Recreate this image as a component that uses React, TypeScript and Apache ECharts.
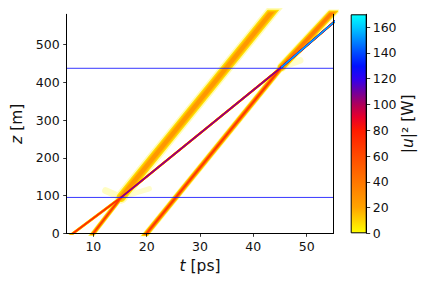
import React, { useEffect, useRef } from 'react';
import * as echarts from 'echarts';

// ---------- data ----------
const xTicks = [10, 20, 30, 40, 50];
const yTicks = [0, 100, 200, 300, 400, 500];
const cbTicks = [0, 20, 40, 60, 80, 100, 120, 140, 160];
const xRange = [5, 55];
const yRange = [0, 580];
const cbRange = [0, 170];

// soliton traces: [t (ps), z (m)] vertices (first/last run past the axes and are clipped)
const trace1 = [[4.3, -20], [15.2, 95], [45.3, 440], [56, 570]];
const trace1Peak = [80, 112, 165];
const trace2 = [[8.9, -20], [15.2, 95], [44.8, 610]];
const trace2Peak = [75, 30];
const trace3 = [[18.85, -20], [45.3, 440], [56.6, 612]];
const trace3Peak = [75, 45];
// faint radiation around the collisions
const radiation = [
  [[15.2, 95], [12.3, 113]],
  [[15.2, 95], [20.5, 118]],
  [[15.2, 95], [23, 230]],
  [[45.3, 440], [48.8, 458]],
];
const radiationPeak = [3.5, 3, 3.5, 3];
const collisionZ = [95, 437];

// ---------- styles ----------
const trace1Sigma = [0.75, 0.8, 0.8];
const trace1Shape = [3, 6, 6];
const trace2Sigma = [0.9, 2.3];
const trace2Shape = [2, 2];
const trace3Sigma = [1.1, 1.7];
const trace3Shape = [2, 2];
const radiationSigma = [2, 1.6, 3.5, 2];
const radiationShape = [2, 2, 2, 2];
const levels = [0.8, 4, 10, 20, 30, 45, 60, 75, 90, 105, 120, 135, 150];
const cmap: [number, string][] = [
  [0, '#ffff00'],
  [20, '#ffa300'],
  [40, '#ff7600'],
  [60, '#ff4a00'],
  [80, '#ff1a00'],
  [90, '#e8002a'],
  [100, '#b0005a'],
  [110, '#7000a0'],
  [120, '#3000f0'],
  [130, '#0010ff'],
  [140, '#0048ff'],
  [150, '#0088ff'],
  [160, '#00c8ff'],
  [170, '#00ffff'],
];
const FONT = 'DejaVu Sans';

function hex(c: string) {
  return [parseInt(c.slice(1, 3), 16), parseInt(c.slice(3, 5), 16), parseInt(c.slice(5, 7), 16)];
}
function mix(a: number[], b: number[], t: number) {
  return a.map((x, i) => Math.round(x + (b[i] - x) * t));
}
function cmapRgb(v: number) {
  if (v <= cmap[0][0]) return hex(cmap[0][1]);
  for (let i = 1; i < cmap.length; i++) {
    if (v <= cmap[i][0]) {
      const t = (v - cmap[i - 1][0]) / (cmap[i][0] - cmap[i - 1][0]);
      return mix(hex(cmap[i - 1][1]), hex(cmap[i][1]), t);
    }
  }
  return hex(cmap[cmap.length - 1][1]);
}
function drawColor(v: number) {
  let c = cmapRgb(v);
  if (v < 6) c = mix([255, 255, 255], c, Math.pow(v / 6, 1.4));
  return `rgb(${c[0]},${c[1]},${c[2]})`;
}

type Layer = { data: number[][]; width: number; val: number };
function buildLayers(points: number[][], peaks: number[], sigmas: number[], shapes: number[], out: Layer[]) {
  for (let i = 0; i < peaks.length; i++) {
    const P = peaks[i];
    const s = sigmas[i];
    const p = shapes[i];
    const lv = levels.filter((v) => v < P * 0.97);
    lv.forEach((v, k) => {
      const next = k + 1 < lv.length ? lv[k + 1] : P;
      const w = 2 * s * Math.pow(2 * Math.log(P / v), 1 / p);
      out.push({ data: [points[i], points[i + 1]], width: Math.max(w, 0.6), val: (v + next) / 2 });
    });
  }
}

export default function App() {
  const ref = useRef<HTMLDivElement>(null);
  useEffect(() => {
    const chart = echarts.init(ref.current!, null, { renderer: 'svg' });
    const layers: Layer[] = [];
    radiation.forEach((seg, i) =>
      buildLayers(seg, [radiationPeak[i]], [radiationSigma[i]], [radiationShape[i]], layers)
    );
    buildLayers(trace2, trace2Peak, trace2Sigma, trace2Shape, layers);
    buildLayers(trace3, trace3Peak, trace3Sigma, trace3Shape, layers);
    buildLayers(trace1, trace1Peak, trace1Sigma, trace1Shape, layers);
    const sorted = layers.map((l, i) => ({ l, i })).sort((a, b) => a.l.val - b.l.val || a.i - b.i);

    const traceSeries = sorted.map(({ l }) => ({
      type: 'line',
      xAxisIndex: 0,
      yAxisIndex: 0,
      data: l.data,
      symbol: 'none',
      silent: true,
      clip: true,
      z: 2,
      lineStyle: { width: l.width, color: drawColor(l.val), cap: 'round' },
    }));

    const hSeries = collisionZ.map((z) => ({
      type: 'line',
      xAxisIndex: 0,
      yAxisIndex: 0,
      data: [[xRange[0], z], [xRange[1], z]],
      symbol: 'none',
      silent: true,
      z: 3,
      lineStyle: { width: 1, color: 'rgba(20,20,255,0.85)' },
    }));

    const gradStops = cmap.map(([v, c]) => ({ offset: v / cbRange[1], color: c }));

    const tickLabel = { fontFamily: FONT, fontSize: 12.5, color: '#111' };
    const nameStyle = {
      fontFamily: FONT,
      fontSize: 15.5,
      color: '#111',
      rich: { i: { fontFamily: FONT, fontSize: 15.5, fontStyle: 'italic', color: '#111' } },
    };
    const axisLine = { show: true, lineStyle: { color: '#000', width: 1 } };
    const tick = { show: true, length: 3.5, lineStyle: { color: '#000', width: 0.8 } };

    chart.setOption({
      animation: false,
      backgroundColor: '#fff',
      grid: [
        { left: 66.7, top: 14.3, width: 266.6, height: 219, show: false },
        { left: 350.7, top: 14.3, width: 16, height: 219, show: false },
      ],
      xAxis: [
        {
          type: 'value', gridIndex: 0, min: xRange[0], max: xRange[1], z: 10,
          axisLine, splitLine: { show: false },
          axisTick: { ...tick, customValues: xTicks },
          axisLabel: { ...tickLabel, margin: 7, customValues: xTicks },
          name: '{i|t} [ps]', nameLocation: 'middle', nameGap: 25, nameTextStyle: nameStyle,
        },
        {
          type: 'value', gridIndex: 0, min: xRange[0], max: xRange[1], position: 'top', z: 10,
          axisLine, axisTick: { show: false }, axisLabel: { show: false }, splitLine: { show: false },
        },
        { type: 'category', gridIndex: 1, data: ['c'], show: false },
      ],
      yAxis: [
        {
          type: 'value', gridIndex: 0, min: yRange[0], max: yRange[1], z: 10,
          axisLine, splitLine: { show: false },
          axisTick: { ...tick, customValues: yTicks },
          axisLabel: { ...tickLabel, margin: 7, customValues: yTicks },
          name: '{i|z} [m]', nameLocation: 'middle', nameGap: 40, nameTextStyle: nameStyle,
        },
        {
          type: 'value', gridIndex: 0, min: yRange[0], max: yRange[1], position: 'right', z: 10,
          axisLine, axisTick: { show: false }, axisLabel: { show: false }, splitLine: { show: false },
        },
        {
          type: 'value', gridIndex: 1, min: cbRange[0], max: cbRange[1], position: 'right', z: 10,
          axisLine, splitLine: { show: false },
          axisTick: { ...tick, customValues: cbTicks },
          axisLabel: { ...tickLabel, margin: 6, customValues: cbTicks },
          name: '|{i|u}|² [W]', nameLocation: 'middle', nameGap: 33, nameTextStyle: nameStyle,
        },
      ],
      series: [
        ...traceSeries,
        ...hSeries,
        {
          type: 'bar',
          xAxisIndex: 2,
          yAxisIndex: 2,
          data: [cbRange[1]],
          barWidth: '100%',
          silent: true,
          itemStyle: {
            color: new echarts.graphic.LinearGradient(0, 1, 0, 0, gradStops),
            borderColor: '#000',
            borderWidth: 1,
          },
        },
      ],
    });
    return () => chart.dispose();
  }, []);
  return <div ref={ref} style={{ width: 432, height: 288, margin: -8 }} />;
}
